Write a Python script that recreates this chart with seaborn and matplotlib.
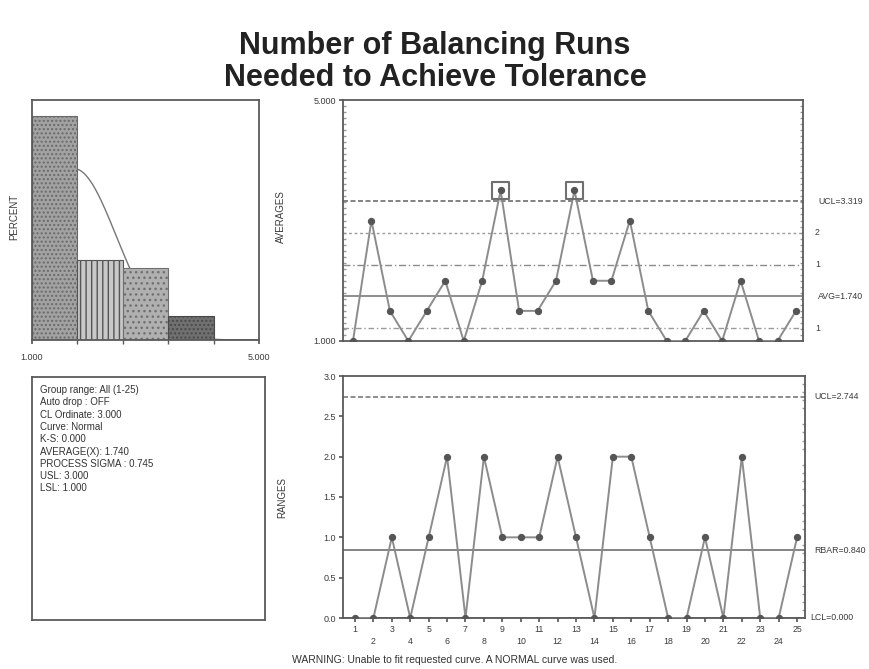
import numpy as np
import matplotlib
matplotlib.use("Agg")
import matplotlib.pyplot as plt
import seaborn as sns
from matplotlib.ticker import MultipleLocator, FixedLocator

# ---------------- data ----------------
subgroups = list(range(1, 26))
averages = [1.0, 3.0, 1.5, 1.0, 1.5, 2.0, 1.0, 2.0, 3.5, 1.5, 1.5, 2.0, 3.5,
            2.0, 2.0, 3.0, 1.5, 1.0, 1.0, 1.5, 1.0, 2.0, 1.0, 1.0, 1.5]
ranges = [0, 0, 1, 0, 1, 2, 0, 2, 1, 1, 1, 2, 1, 0, 2, 2, 1, 0, 0, 1, 0, 2, 0, 0, 1]
out_of_control = [9, 13]

avg_center = 1.740
avg_ucl = 3.319
rng_ucl = 2.744
rbar = 0.840
rng_lcl = 0.000
process_sigma = 0.745

hist_edges = [1.0, 1.8, 2.6, 3.4, 4.2]
hist_percent = [56, 20, 18, 6]

info_lines = ["Group range: All (1-25)",
              "Auto drop : OFF",
              "CL Ordinate: 3.000",
              "Curve: Normal",
              "K-S: 0.000",
              "AVERAGE(X): 1.740",
              "PROCESS SIGMA : 0.745",
              "USL: 3.000",
              "LSL: 1.000"]

footer = "WARNING: Unable to fit requested curve. A NORMAL curve was used."

# ---------------- style ----------------
sns.set_theme(style="white")
plt.rcParams['font.family'] = ['Liberation Sans', 'DejaVu Sans']

W, H = 870, 669
fig = plt.figure(figsize=(W / 100, H / 100), dpi=100)


def rect(l, t, r, b):
    return [l / W, 1 - b / H, (r - l) / W, (b - t) / H]


frame_c = '#5a5a5a'
line_c = '#8c8c8c'
mark_c = '#555555'
txt_c = '#3a3a3a'

ax_h = fig.add_axes(rect(32, 100, 259, 340))
ax_t = fig.add_axes(rect(32, 377, 265, 620))
ax_a = fig.add_axes(rect(343, 100, 803, 341))
ax_r = fig.add_axes(rect(343, 376, 805, 618))

for ax in (ax_h, ax_t, ax_a, ax_r):
    for s in ax.spines.values():
        s.set_visible(True)
        s.set_color(frame_c)
        s.set_linewidth(1.3)

# ---------------- title ----------------
fig.text(0.5, 1 - 46 / H, "Number of Balancing Runs", ha='center', va='center',
         fontsize=22, fontweight='bold', color='#222222')
fig.text(0.5, 1 - 78 / H, "Needed to Achieve Tolerance", ha='center', va='center',
         fontsize=22, fontweight='bold', color='#222222')

# ---------------- histogram ----------------
centers = [(hist_edges[i] + hist_edges[i + 1]) / 2 for i in range(len(hist_percent))]
bw = hist_edges[1] - hist_edges[0]
xs = np.linspace(1.0, 5.0, 300)
pdf = np.exp(-0.5 * ((xs - avg_center) / process_sigma) ** 2) / (process_sigma * np.sqrt(2 * np.pi))
sns.lineplot(x=xs, y=pdf * bw * 100, ax=ax_h, color='#777777', lw=1.0, zorder=0.5)
sns.histplot(x=centers, weights=hist_percent, bins=hist_edges, ax=ax_h,
             stat='count', element='bars', zorder=1)
styles = [('#a2a2a2', '....', '#6a6a6a'),
          ('#c8c8c8', '|||', '#555555'),
          ('#b0b0b0', '...', '#707070'),
          ('#707070', '....', '#4a4a4a')]
for p, (fc, ht, ec) in zip(ax_h.patches, styles):
    p.set_facecolor(fc)
    p.set_hatch(ht)
    p.set_edgecolor(ec)
    p.set_linewidth(0.8)
    p.set_alpha(1)
ax_h.set_xlim(1.0, 5.0)
ax_h.set_ylim(0, 60)
ax_h.set_xticks([1.0, 5.0])
ax_h.set_xticklabels(["1.000", "5.000"], fontsize=6.5, color=txt_c)
ax_h.xaxis.set_minor_locator(FixedLocator(hist_edges[1:]))
ax_h.tick_params(axis='x', which='both', bottom=True, direction='out', color=frame_c)
ax_h.tick_params(axis='x', which='major', length=3, pad=6)
ax_h.tick_params(axis='x', which='minor', length=3)
ax_h.set_yticks([])
ax_h.set_ylabel("")
ax_h.set_xlabel("")
fig.text(14 / W, 1 - 217 / H, "PERCENT", rotation=90, ha='center', va='center',
         fontsize=7, color=txt_c)

# ---------------- info panel ----------------
ax_t.set_xticks([])
ax_t.set_yticks([])
for i, s in enumerate(info_lines):
    ax_t.text(8 / 233, 1 - (13 + i * 12.3) / 243, s, transform=ax_t.transAxes,
              ha='left', va='center', fontsize=7, color='#333333')

# ---------------- averages chart ----------------
sig = (avg_ucl - avg_center) / 3
ax_a.axhline(avg_ucl, color='#6e6e6e', lw=1.2, ls=(0, (3, 1.5)), zorder=1)
ax_a.axhline(avg_center + 2 * sig, color='#9a9a9a', lw=1.0, ls=(0, (2, 2)), zorder=1)
ax_a.axhline(avg_center + sig, color='#8a8a8a', lw=1.0, ls=(0, (5, 2, 1, 2)), zorder=1)
ax_a.axhline(avg_center, color='#7a7a7a', lw=1.2, zorder=1)
ax_a.axhline(avg_center - sig, color='#9a9a9a', lw=1.0, ls=(0, (4, 2, 1, 2)), zorder=1)
sns.lineplot(x=subgroups, y=averages, ax=ax_a, color=line_c, lw=1.4, marker='o',
             markersize=4.5, markerfacecolor=mark_c, markeredgecolor=mark_c, zorder=3)
ooc_y = [averages[s - 1] for s in out_of_control]
sns.scatterplot(x=out_of_control, y=ooc_y, ax=ax_a, marker='s', s=140,
                facecolor='none', edgecolor='#707070', linewidth=1.5, zorder=4)
ax_a.set_xlim(0.46, 25.38)
ax_a.set_ylim(1.0, 5.0)
ax_a.set_xticks([])
ax_a.set_yticks([1.0, 5.0])
ax_a.set_yticklabels(["1.000", "5.000"], fontsize=6.5, color=txt_c)
ax_a.yaxis.set_minor_locator(MultipleLocator(0.1))
ax_a.tick_params(axis='y', which='major', left=True, length=3, direction='out', color=frame_c, pad=2)
ax_a.tick_params(axis='y', which='minor', left=True, right=True, length=2, direction='in', color='#999999')
ax_a.set_xlabel("")
ax_a.set_ylabel("")
ty = ax_a.get_yaxis_transform()
ax_a.text(1.033, avg_ucl, f"UCL={avg_ucl:.3f}", transform=ty, fontsize=6.3, va='center', color=txt_c)
ax_a.text(1.026, avg_center + 2 * sig, "2", transform=ty, fontsize=6.3, va='center', color=txt_c)
ax_a.text(1.026, avg_center + sig, "1", transform=ty, fontsize=6.3, va='center', color=txt_c)
ax_a.text(1.033, avg_center, f"AVG={avg_center:.3f}", transform=ty, fontsize=6.3, va='center', color=txt_c)
ax_a.text(1.026, avg_center - sig, "1", transform=ty, fontsize=6.3, va='center', color=txt_c)
fig.text(281 / W, 1 - 217 / H, "AVERAGES", rotation=90, ha='center', va='center',
         fontsize=7, color=txt_c)

# ---------------- ranges chart ----------------
ax_r.axhline(rng_ucl, color='#7a7a7a', lw=1.2, ls=(0, (3, 1.5)), zorder=1)
ax_r.axhline(rbar, color='#6e6e6e', lw=1.2, zorder=1)
ax_r.axhline(rng_lcl, color='#6e6e6e', lw=1.2, zorder=1)
sns.lineplot(x=subgroups, y=ranges, ax=ax_r, color=line_c, lw=1.4, marker='o',
             markersize=4.5, markerfacecolor=mark_c, markeredgecolor=mark_c, zorder=3)
ax_r.set_xlim(0.35, 25.43)
ax_r.set_ylim(0.0, 3.0)
ax_r.set_yticks(np.arange(0, 3.01, 0.5))
ax_r.set_yticklabels([f"{v:.1f}" for v in np.arange(0, 3.01, 0.5)], fontsize=6.5, color=txt_c)
ax_r.set_xticks(subgroups)
ax_r.set_xticklabels([str(s) if s % 2 == 1 else "\n" + str(s) for s in subgroups],
                     fontsize=6.3, color=txt_c, linespacing=1.5)
ax_r.yaxis.set_minor_locator(MultipleLocator(0.1))
ax_r.tick_params(axis='both', which='major', left=True, bottom=True, length=3,
                 direction='out', color=frame_c, pad=2)
ax_r.tick_params(axis='y', which='minor', right=True, length=2, direction='in', color='#999999')
ax_r.set_xlabel("")
ax_r.set_ylabel("")
ty = ax_r.get_yaxis_transform()
ax_r.text(1.02, rng_ucl, f"UCL={rng_ucl:.3f}", transform=ty, fontsize=6.3, va='center', color=txt_c)
ax_r.text(1.02, rbar, f"RBAR={rbar:.3f}", transform=ty, fontsize=6.3, va='center', color=txt_c)
ax_r.text(1.012, rng_lcl, f"LCL={rng_lcl:.3f}", transform=ty, fontsize=6.3, va='center', color=txt_c)
fig.text(282 / W, 1 - 498 / H, "RANGES", rotation=90, ha='center', va='center',
         fontsize=7, color=txt_c)

fig.text(455 / W, 1 - 660 / H, footer, ha='center', va='center', fontsize=7.5, color='#333333')

fig.savefig("out.png", dpi=100)
